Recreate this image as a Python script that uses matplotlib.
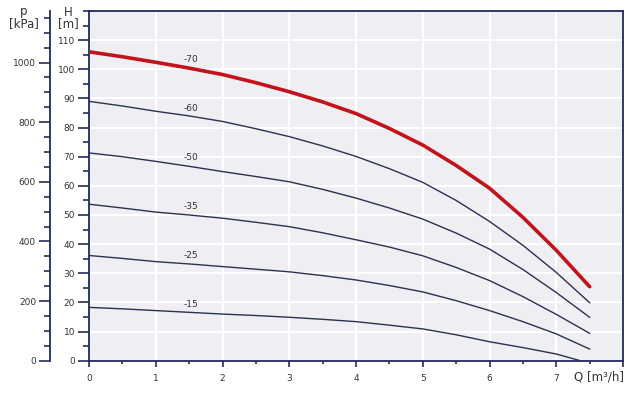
import matplotlib
matplotlib.use("Agg")
import matplotlib.pyplot as plt
from matplotlib.ticker import MultipleLocator, FixedLocator

# ---- data ----
q = [0, 0.5, 1, 1.5, 2, 2.5, 3, 3.5, 4, 4.5, 5, 5.5, 6, 6.5, 7, 7.5]
h_70 = [106.0, 104.3, 102.4, 100.4, 98.2, 95.4, 92.3, 88.8, 84.8, 79.7, 74.0, 67.0, 59.2, 49.2, 37.9, 25.4]
h_60 = [89.0, 87.4, 85.6, 84.0, 82.1, 79.6, 76.9, 73.7, 70.1, 65.9, 61.2, 55.0, 47.8, 39.6, 30.3, 19.9]
h_50 = [71.3, 70.0, 68.4, 66.7, 64.9, 63.2, 61.4, 58.8, 55.8, 52.4, 48.6, 43.8, 38.3, 31.3, 23.4, 14.9]
h_35 = [53.7, 52.4, 51.0, 50.0, 48.9, 47.5, 46.0, 43.9, 41.5, 39.0, 36.0, 32.0, 27.5, 22.0, 15.9, 9.4]
h_25 = [36.1, 35.1, 34.0, 33.2, 32.3, 31.4, 30.5, 29.2, 27.7, 25.8, 23.6, 20.6, 17.2, 13.4, 9.2, 4.0]
q_15 = [0, 0.5, 1, 1.5, 2, 2.5, 3, 3.5, 4, 4.5, 5, 5.5, 6, 6.5, 7, 7.36]
h_15 = [18.3, 17.8, 17.2, 16.6, 16.0, 15.5, 14.9, 14.2, 13.4, 12.2, 10.9, 8.9, 6.5, 4.5, 2.3, 0.0]

curve_labels = ["-70", "-60", "-50", "-35", "-25", "-15"]
label_q = 1.52
label_h = [103.2, 86.7, 69.8, 52.9, 36.1, 19.3]

x_ticks = [0, 1, 2, 3, 4, 5, 6, 7]
h_ticks = [0, 10, 20, 30, 40, 50, 60, 70, 80, 90, 100, 110]
p_ticks = [0, 200, 400, 600, 800, 1000]
P_PER_M = 9.775

navy = "#1f2b5e"
line_c = "#2b3152"
red = "#c3121c"
txt = "#333333"

fig = plt.figure(figsize=(6.4, 3.93), dpi=100)
ax = fig.add_axes([89/640, 1 - 360.7/393, (623-89)/640, (360.7-11)/393])
ax.set_facecolor("#eeeef3")
ax.set_xlim(0, 8)
ax.set_ylim(0, 120)

ax.xaxis.set_major_locator(FixedLocator(x_ticks + [8]))
ax.set_xticklabels([str(v) for v in x_ticks] + [""])
ax.xaxis.set_minor_locator(MultipleLocator(0.5))
ax.yaxis.set_major_locator(FixedLocator(h_ticks))
ax.set_yticklabels([str(v) for v in h_ticks])
ax.yaxis.set_minor_locator(MultipleLocator(5))

for xv in range(1, 8):
    ax.axvline(xv, color="white", lw=1.5, zorder=1)
for yv in h_ticks[1:]:
    ax.axhline(yv, color="white", lw=1.5, zorder=1)

series = [h_70, h_60, h_50, h_35, h_25]
for i, hs in enumerate(series):
    if i == 0:
        ax.plot(q, hs, color=red, lw=2.6, zorder=4, solid_capstyle="round", solid_joinstyle="round")
    else:
        ax.plot(q, hs, color=line_c, lw=1.0, zorder=3, solid_joinstyle="round")
ax.plot(q_15, h_15, color=line_c, lw=1.0, zorder=3, clip_on=False, solid_joinstyle="round")

for lab, hv in zip(curve_labels, label_h):
    ax.text(label_q, hv, lab, fontsize=6.5, color=txt, ha="center", va="center", zorder=5)

for s in ax.spines.values():
    s.set_color(navy)
    s.set_linewidth(1.3)

ax.tick_params(axis="both", which="both", colors=navy, labelcolor=txt, labelsize=6.5, width=1.2)
ax.tick_params(axis="x", which="major", length=4.5, pad=5)
ax.tick_params(axis="x", which="minor", length=2.5)
ax.tick_params(axis="y", which="major", length=8, pad=2)
ax.tick_params(axis="y", which="minor", length=4)

# pressure axis
ax2 = ax.twinx()
ax2.set_ylim(0, 120 * P_PER_M)
ax2.yaxis.set_label_position("left")
ax2.yaxis.tick_left()
ax2.spines["left"].set_position(("axes", (50 - 89) / 534))
for k in ["right", "top", "bottom"]:
    ax2.spines[k].set_visible(False)
ax2.spines["left"].set_color(navy)
ax2.spines["left"].set_linewidth(1.3)
ax2.yaxis.set_major_locator(FixedLocator(p_ticks))
ax2.set_yticklabels([str(v) for v in p_ticks])
ax2.yaxis.set_minor_locator(MultipleLocator(50))
ax2.tick_params(axis="y", which="both", colors=navy, labelcolor=txt, labelsize=6.5, width=1.2)
ax2.tick_params(axis="y", which="major", length=8, pad=2)
ax2.tick_params(axis="y", which="minor", length=4)

fig.text(24/640, 1 - 12/393, "p", fontsize=8.5, color=txt, ha="center", va="center")
fig.text(24/640, 1 - 24/393, "[kPa]", fontsize=8.5, color=txt, ha="center", va="center")
fig.text(68/640, 1 - 12/393, "H", fontsize=8.5, color=txt, ha="center", va="center")
fig.text(68/640, 1 - 24/393, "[m]", fontsize=8.5, color=txt, ha="center", va="center")
fig.text(624/640, 1 - 377/393, "Q [m³/h]", fontsize=8.5, color=txt, ha="right", va="center")

fig.savefig("out.png", dpi=100, facecolor="white")
